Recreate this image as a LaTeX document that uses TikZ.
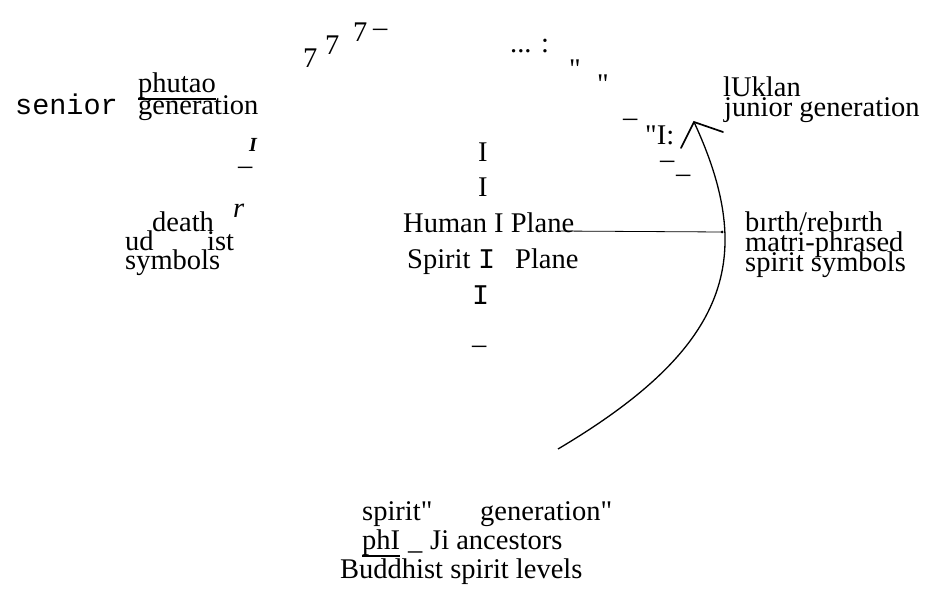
\documentclass[tikz,border=0pt]{standalone}
\usepackage{fontspec}
\setmainfont{Liberation Serif}[Ligatures=TeXOff]
\setmonofont{Liberation Mono}[Ligatures=TeXOff]
\begin{document}
\begin{tikzpicture}[x=1pt,y=-1pt,
  lbl/.style={inner sep=0pt, anchor=base west, font=\fontsize{28.5}{20}\selectfont},
  tlbl/.style={lbl, font=\fontsize{28.5}{20}\selectfont\ttfamily},
  curveline/.style={line width=1.3pt},
  barb/.style={line width=1.7pt, line cap=round},
  thinline/.style={line width=0.8pt},
  uline/.style={line width=1.4pt}]
\useasboundingbox (0,0) rectangle (932,593);
% upper left
\node[tlbl] (senior) at (15,115) {senior};
\node[lbl] (phutao) at (138,93) {phutao};
\node[lbl] (gen1) at (138,115) {generation};
\draw[uline] ([yshift=-6pt]phutao.base west) -- ([yshift=-6pt]phutao.base east);
\node[lbl, font=\fontsize{20}{20}\selectfont\bfseries\itshape] (itI) at (249,152) {I};
\node[lbl] (dashA) at (238,175) {–};
\node[lbl, font=\fontsize{28.5}{20}\selectfont\itshape] (itr) at (233,218) {r};
\node[lbl] (death) at (152,232) {death};
\node[lbl] (ud) at (125,251) {ud};
\node[lbl] (ist) at (207,251) {ist};
\node[lbl] (symL) at (125,270) {symbols};
% top
\node[lbl] (sevenA) at (303,68) {7};
\node[lbl] (sevenB) at (325,55) {7};
\node[lbl] (sevenC) at (353,42) {7};
\node[lbl] (dashB) at (373,37) {–};
\node[lbl] (dots) at (510,53) {... :};
\node[lbl] (qA) at (569,79) {"};
\node[lbl] (qB) at (597,94) {"};
\node[lbl] (dashC) at (623,127) {–};
\node[lbl] (qI) at (645,145) {"I:};
\node[lbl] (dashD) at (660,169) {–};
\node[lbl] (dashE) at (676,183) {–};
% centre column
\node[lbl] (colA) at (478,162) {I};
\node[lbl] (colB) at (478,197) {I};
\node[lbl] (human) at (403,233) {Human I Plane};
\node[lbl] (spirit) at (407,269) {Spirit};
\node[tlbl] (ttI) at (478,269) {I};
\node[lbl] (plane2) at (515,269) {Plane};
\node[tlbl] (ttI2) at (472,305) {I};
\node[lbl] (dashF) at (472,354) {–};
% right
\node[lbl] (uklan) at (723,97) {lUklan};
\node[lbl] (junior) at (724,117) {junior generation};
\node[lbl] (birth) at (745,232) {bırth/rebırth};
\node[lbl] (matri) at (745,252) {matri-phrased};
\node[lbl] (symR) at (745,272) {spirit symbols};
% bottom
\node[lbl] (spq) at (362,520) {spirit"};
\node[lbl] (genq) at (480,520) {generation"};
\node[lbl] (phI) at (362,549) {phI};
\draw[uline] ([yshift=-7pt]phI.base west) -- ([yshift=-7pt]phI.base east);
\node[lbl] (us) at (408,549) {\_};
\node[lbl] (ji) at (430,549) {Ji ancestors};
\node[lbl] (budd) at (340,578) {Buddhist spirit levels};
% connectors
\coordinate (cstart) at (558,449);
\coordinate (apex) at (694,122);
\coordinate (barbL) at (681,148);
\coordinate (barbR) at (723,132);
\coordinate (hl) at (557,231);
\coordinate (junction) at (722,232);
\draw[curveline] (cstart) .. controls (730,347) and (757,258) .. (apex);
\draw[barb] (barbL) -- (apex) -- (barbR);
\draw[thinline] (hl) -- (junction);
\fill (junction) circle (1.5pt);
\end{tikzpicture}
\end{document}
